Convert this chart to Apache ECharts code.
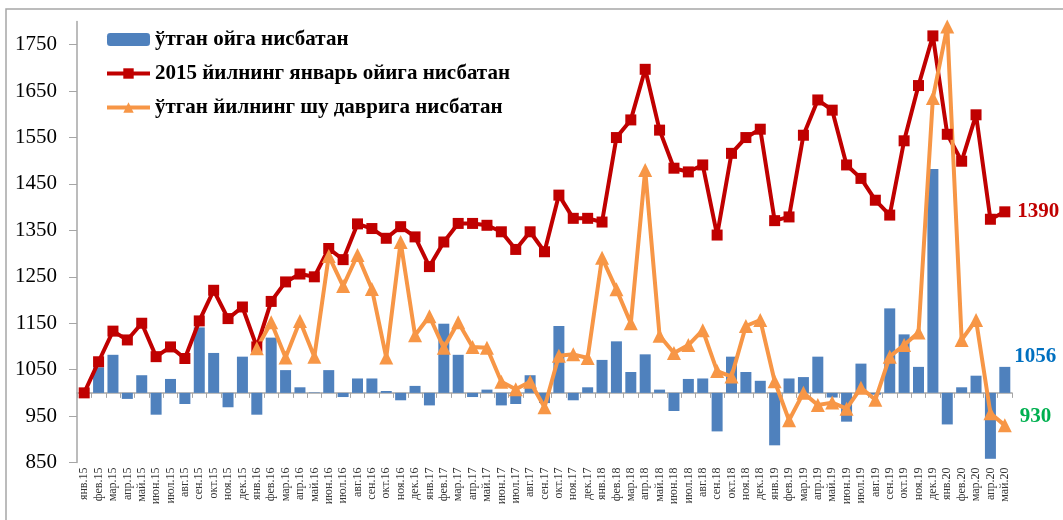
<!DOCTYPE html>
<html>
<head>
<meta charset="utf-8">
<script src="https://cdn.jsdelivr.net/npm/echarts@6/dist/echarts.min.js"></script>
<style>
  html, body { margin: 0; padding: 0; background: #fff; }
  #main { width: 1063px; height: 520px; }
</style>
</head>
<body>
<div id="main"></div>
<script>
const categories = [
  'янв.15','фев.15','мар.15','апр.15','май.15','июн.15','июл.15','авг.15','сен.15','окт.15','ноя.15','дек.15',
  'янв.16','фев.16','мар.16','апр.16','май.16','июн.16','июл.16','авг.16','сен.16','окт.16','ноя.16','дек.16',
  'янв.17','фев.17','мар.17','апр.17','май.17','июн.17','июл.17','авг.17','сен.17','окт.17','ноя.17','дек.17',
  'янв.18','фев.18','мар.18','апр.18','май.18','июн.18','июл.18','авг.18','сен.18','окт.18','ноя.18','дек.18',
  'янв.19','фев.19','мар.19','апр.19','май.19','июн.19','июл.19','авг.19','сен.19','окт.19','ноя.19','дек.19',
  'янв.20','фев.20','мар.20','апр.20','май.20'
];

const seriesNames = [
  'ўтган ойга нисбатан',
  '2015 йилнинг январь ойига нисбатан',
  'ўтган йилнинг шу даврига нисбатан'
];

// ўтган ойга нисбатан (bars, base line 1000)
const prevMonth = [
  null, 1055, 1082, 987, 1038, 953, 1030, 976, 1141, 1086, 969, 1078,
  953, 1119, 1049, 1012, 1001, 1049, 991, 1031, 1031, 1004, 984, 1015,
  973, 1149, 1082, 991, 1007, 973, 976, 1038, 978, 1144, 984, 1012,
  1071, 1111, 1045, 1083, 1007, 961, 1030, 1031, 917, 1078, 1045, 1026,
  887, 1031, 1034, 1078, 990, 938, 1063, 996, 1182, 1126, 1056, 1482,
  932, 1012, 1037, 858, 1056
];

// 2015 йилнинг январь ойига нисбатан
const sinceJan2015 = [
  1000, 1067, 1133, 1114, 1150, 1078, 1099, 1074, 1155, 1221, 1160, 1185,
  1099, 1197, 1239, 1256, 1250, 1311, 1287, 1364, 1354, 1333, 1358, 1336,
  1272, 1325, 1365, 1365, 1361, 1347, 1309, 1347, 1304, 1426, 1376, 1376,
  1368, 1550, 1588, 1697, 1566, 1484, 1476, 1491, 1340, 1516, 1550, 1568,
  1371, 1379, 1555, 1631, 1609, 1491, 1462, 1415, 1383, 1543, 1662, 1769,
  1557, 1499, 1599, 1374, 1390
];

// ўтган йилнинг шу даврига нисбатан
const yearOnYear = [
  null, null, null, null, null, null, null, null, null, null, null, null,
  1096, 1152, 1076, 1155, 1078, 1295, 1230, 1297, 1224, 1076, 1325, 1124,
  1165, 1097, 1152, 1099, 1097, 1024, 1008, 1024, 969, 1080, 1083, 1075,
  1291, 1223, 1150, 1480, 1123, 1086, 1103, 1135, 1047, 1035, 1144, 1157,
  1025, 941, 1000, 974, 979, 966, 1011, 985, 1078, 1103, 1130, 1635,
  1789, 1114, 1157, 956, 930
];

const yTicks = [850, 950, 1050, 1150, 1250, 1350, 1450, 1550, 1650, 1750];
const baseLevel = 1000;

const serif = 'Liberation Serif';
const last = categories.length - 1;

function withLastLabel(values, fn) {
  return values.map((v, i) => {
    const val = v == null ? null : fn(v);
    return i === last ? { value: val, label: { show: true } } : val;
  });
}

const chart = echarts.init(document.getElementById('main'));

const option = {
  animation: false,
  backgroundColor: '#fff',
  graphic: [{
    type: 'rect',
    silent: true,
    z: -1,
    shape: { x: 6, y: 9, width: 1200, height: 700 },
    style: { fill: null, stroke: '#A6A6A6', lineWidth: 1.5 }
  }],
  legend: {
    orient: 'vertical',
    left: 100,
    top: 24,
    itemWidth: 43,
    itemHeight: 13,
    itemGap: 13,
    data: seriesNames,
    lineStyle: { width: 4 },
    textStyle: { fontFamily: serif, fontWeight: 'bold', fontSize: 21, color: '#000' }
  },
  grid: { left: 77, top: 21.5, width: 935, height: 441 },
  xAxis: [
    {
      type: 'category',
      data: categories,
      axisLine: { show: false, onZero: false },
      axisTick: { show: false },
      axisLabel: { interval: 0, rotate: 90, margin: 5, fontSize: 12, fontFamily: serif, color: '#333' }
    },
    {
      type: 'category',
      data: categories,
      position: 'bottom',
      axisLine: { onZero: true, onZeroAxisIndex: 1, lineStyle: { color: '#A6A6A6', width: 1.5 } },
      axisTick: { show: true, interval: 0, length: 5, lineStyle: { color: '#A6A6A6' } },
      axisLabel: { show: false }
    }
  ],
  yAxis: [
    {
      type: 'value',
      min: 850,
      max: 1800,
      interval: 100,
      axisLine: { show: true, lineStyle: { color: '#A6A6A6', width: 1.5 } },
      axisTick: { show: true, length: 8, customValues: yTicks, lineStyle: { color: '#A6A6A6' } },
      axisLabel: {
        customValues: yTicks,
        formatter: v => String(v),
        margin: 20,
        fontSize: 21,
        fontFamily: serif,
        color: '#000'
      },
      splitLine: { show: false }
    },
    {
      // hidden helper axis so that the bars grow from the 1000 level
      type: 'value',
      min: 850 - baseLevel,
      max: 1800 - baseLevel,
      show: false,
      splitLine: { show: false }
    }
  ],
  series: [
    {
      name: seriesNames[0],
      type: 'bar',
      xAxisIndex: 1,
      yAxisIndex: 1,
      barWidth: 11,
      itemStyle: { color: '#4F81BD' },
      data: withLastLabel(prevMonth, v => v - baseLevel),
      label: {
        show: false,
        position: 'right',
        distance: 4,
        offset: [0, -23],
        formatter: p => prevMonth[p.dataIndex],
        color: '#0070C0',
        fontFamily: serif,
        fontWeight: 'bold',
        fontSize: 21
      }
    },
    {
      name: seriesNames[1],
      type: 'line',
      symbol: 'rect',
      symbolSize: 11,
      lineStyle: { color: '#C00000', width: 4 },
      itemStyle: { color: '#C00000' },
      data: withLastLabel(sinceJan2015, v => v),
      label: {
        show: false,
        position: 'right',
        distance: 7,
        color: '#C00000',
        fontFamily: serif,
        fontWeight: 'bold',
        fontSize: 21
      }
    },
    {
      name: seriesNames[2],
      type: 'line',
      symbol: 'triangle',
      symbolSize: 14,
      lineStyle: { color: '#F79646', width: 4 },
      itemStyle: { color: '#F79646' },
      data: withLastLabel(yearOnYear, v => v),
      label: {
        show: false,
        position: 'right',
        distance: 8,
        offset: [0, -9],
        color: '#00B050',
        fontFamily: serif,
        fontWeight: 'bold',
        fontSize: 21
      }
    }
  ]
};

chart.setOption(option);
</script>
</body>
</html>
